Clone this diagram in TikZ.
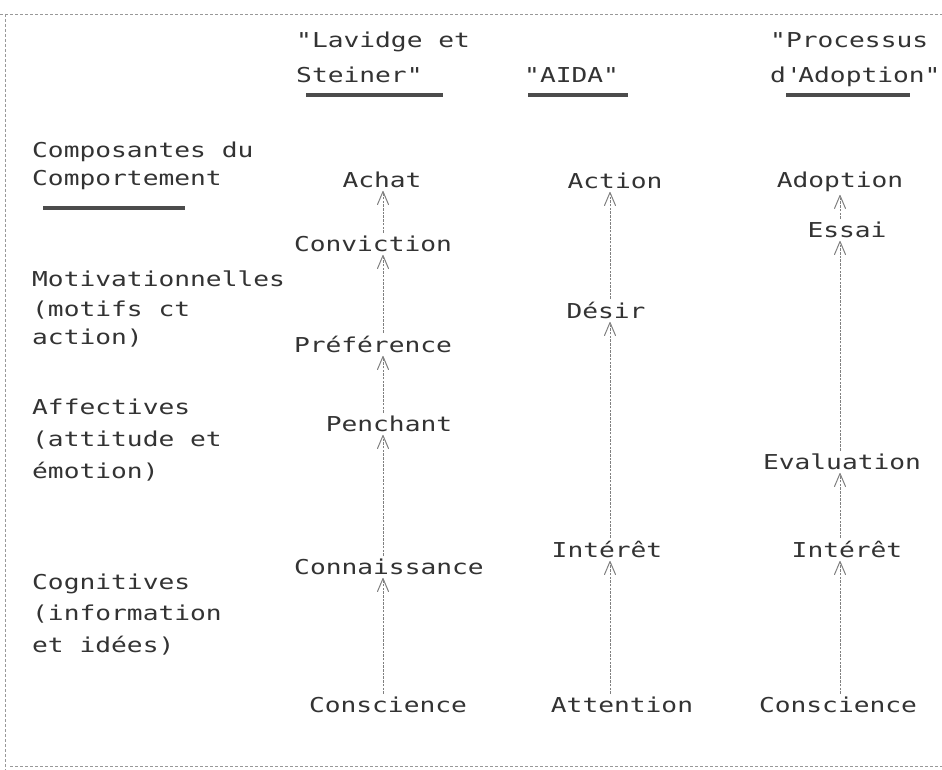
\documentclass[tikz,border=0pt]{standalone}
\usepackage{fontspec}
\usetikzlibrary{arrows.meta,calc}
\newfontfamily\tw[FakeStretch=1.28]{DejaVu Sans Mono}
\begin{document}
\begin{tikzpicture}[x=1pt,y=-1pt,
  txt/.style={font=\tw\fontsize{20.5}{31}\selectfont, text=black!80, inner sep=0pt, anchor=base},
  lbl/.style={txt, anchor=base west},
  arr/.style={draw=black!50, line width=0.9pt, dash pattern=on 2.5pt off 1.2pt,
    shorten >=3pt, shorten <=3pt,
    -{Straight Barb[length=13pt,width=11pt,line width=1pt,round]}},
  rulebar/.style={draw=black!70, line width=3.2pt},
  frameline/.style={draw=black!40, line width=0.7pt, dash pattern=on 3pt off 2pt}]
\useasboundingbox[fill=white] (0,0) rectangle (942,770);
% frame
\draw[frameline] (0,14) -- (942,14);
\draw[frameline] (5,14) -- (5,770);
\draw[frameline] (10,766) -- (942,766);
% column axes
\coordinate (c1) at (383,0);
\coordinate (c2) at (610,0);
\coordinate (c3) at (840,0);
% headers
\node[lbl] (h1a) at (296,48) {"Lavidge et};
\node[lbl] (h1b) at (296,83) {Steiner"};
\node[lbl] (h2)  at (524,83) {"AIDA"};
\node[lbl] (h3a) at (770,48) {"Processus};
\node[lbl] (h3b) at (770,83) {d\textquotesingle Adoption"};
\draw[rulebar] (306,95) -- (443,95);
\draw[rulebar] (528,95) -- (628,95);
\draw[rulebar] (786,95) -- (910,95);
% left labels
\node[lbl] (l1)  at (32,157.5) {Composantes du};
\node[lbl] (l2)  at (32,185.5) {Comportement};
\draw[rulebar] (43,208) -- (185,208);
\node[lbl] (l3)  at (32,286.5) {Motivationnelles};
\node[lbl] (l4)  at (32,316.5) {(motifs ct};
\node[lbl] (l5)  at (32,344.5) {action)};
\node[lbl] (l6)  at (32,414.5) {Affectives};
\node[lbl] (l7)  at (32,446.5) {(attitude et};
\node[lbl] (l8)  at (32,478.5) {émotion)};
\node[lbl] (l9)  at (32,589.5) {Cognitives};
\node[lbl] (l10) at (32,620.5) {(information};
\node[lbl] (l11) at (32,652.5) {et idées)};
% column 1: Lavidge et Steiner
\node[txt] (achat) at (382,187.5) {Achat};
\node[txt] (conv)  at (373,251.5) {Conviction};
\node[txt] (pref)  at (373,352.5) {Préférence};
\node[txt] (pen)   at (389,431.5) {Penchant};
\node[txt] (conn)  at (389,574.5) {Connaissance};
\node[txt] (consA) at (388,712.5) {Conscience};
% column 2: AIDA
\node[txt] (action) at (615,188.5) {Action};
\node[txt] (desir)  at (606,318.5) {Désir};
\node[txt] (intA)   at (607,557.5) {Intérêt};
\node[txt] (att)    at (622,712.5) {Attention};
% column 3: Processus d'Adoption
\node[txt] (adopt) at (840,187.5) {Adoption};
\node[txt] (essai) at (847,237.5) {Essai};
\node[txt] (eval)  at (842,469.5) {Evaluation};
\node[txt] (intB)  at (847,557.5) {Intérêt};
\node[txt] (consB) at (838,712.5) {Conscience};
% arrows column 1
\draw[arr] (consA.north -| c1) -- (conn.south -| c1);
\draw[arr] (conn.north -| c1) -- (pen.south -| c1);
\draw[arr] (pen.north -| c1) -- (pref.south -| c1);
\draw[arr] (pref.north -| c1) -- (conv.south -| c1);
\draw[arr] (conv.north -| c1) -- (achat.south -| c1);
% arrows column 2
\draw[arr] (att.north -| c2) -- (intA.south -| c2);
\draw[arr] (intA.north -| c2) -- (desir.south -| c2);
\draw[arr] (desir.north -| c2) -- (action.south -| c2);
% arrows column 3
\draw[arr] (consB.north -| c3) -- (intB.south -| c3);
\draw[arr] (intB.north -| c3) -- (eval.south -| c3);
\draw[arr] (eval.north -| c3) -- (essai.south -| c3);
\draw[arr] (essai.north -| c3) -- (adopt.south -| c3);
\end{tikzpicture}
\end{document}
